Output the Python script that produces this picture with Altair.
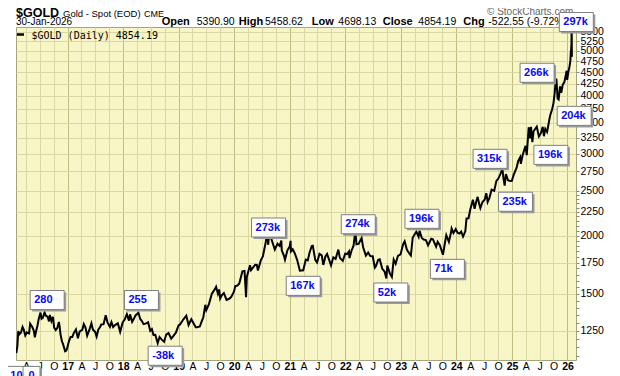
import altair as alt
import pandas as pd

# ---------------- data ----------------
dates = [
    "2016-01-29", "2016-02-05", "2016-02-11", "2016-02-19", "2016-02-29", "2016-03-10", "2016-03-18", "2016-03-28",
    "2016-04-07", "2016-04-15", "2016-04-22", "2016-04-29", "2016-05-13", "2016-05-23", "2016-05-30", "2016-06-07",
    "2016-06-16", "2016-06-24", "2016-07-06", "2016-07-13", "2016-07-21", "2016-08-02", "2016-08-10", "2016-08-22",
    "2016-08-31", "2016-09-06", "2016-09-16", "2016-09-26", "2016-10-04", "2016-10-14", "2016-10-24", "2016-11-04",
    "2016-11-09", "2016-11-15", "2016-11-24", "2016-12-01", "2016-12-15", "2016-12-23", "2016-12-30",
    "2017-01-09", "2017-01-20", "2017-01-31", "2017-02-10", "2017-02-24", "2017-03-09", "2017-03-21", "2017-04-07",
    "2017-04-17", "2017-04-28", "2017-05-09", "2017-05-24", "2017-06-06", "2017-06-16", "2017-06-30", "2017-07-10",
    "2017-07-21", "2017-08-01", "2017-08-10", "2017-08-25", "2017-09-08", "2017-09-20", "2017-10-06", "2017-10-16",
    "2017-10-27", "2017-11-08", "2017-11-27", "2017-12-12", "2017-12-29",
    "2018-01-10", "2018-01-25", "2018-02-08", "2018-02-15", "2018-03-01", "2018-03-13", "2018-03-23", "2018-04-11",
    "2018-04-24", "2018-05-03", "2018-05-15", "2018-06-01", "2018-06-14", "2018-06-28", "2018-07-09", "2018-07-19",
    "2018-07-31", "2018-08-16", "2018-08-28", "2018-09-10", "2018-09-27", "2018-10-11", "2018-10-26", "2018-11-13",
    "2018-11-30", "2018-12-14", "2018-12-31",
    "2019-01-10", "2019-01-31", "2019-02-20", "2019-03-07", "2019-03-25", "2019-04-23", "2019-05-02", "2019-05-20",
    "2019-05-31", "2019-06-12", "2019-06-25", "2019-07-02", "2019-07-19", "2019-08-07", "2019-08-13", "2019-08-23",
    "2019-09-04", "2019-09-16", "2019-09-24", "2019-10-01", "2019-10-11", "2019-10-25", "2019-11-12", "2019-11-29",
    "2019-12-12", "2019-12-31",
    "2020-01-08", "2020-01-20", "2020-02-03", "2020-02-24", "2020-03-09", "2020-03-19", "2020-03-24", "2020-04-14",
    "2020-04-21", "2020-05-18", "2020-05-29", "2020-06-05", "2020-06-24", "2020-07-08", "2020-07-27", "2020-08-06",
    "2020-08-11", "2020-08-18", "2020-09-01", "2020-09-24", "2020-10-12", "2020-10-26", "2020-11-06", "2020-11-09",
    "2020-11-24", "2020-11-30", "2020-12-16", "2020-12-31",
    "2021-01-06", "2021-01-08", "2021-01-20", "2021-02-02", "2021-02-18", "2021-03-08", "2021-03-30", "2021-04-16",
    "2021-04-29", "2021-05-10", "2021-05-25", "2021-06-01", "2021-06-17", "2021-06-29", "2021-07-15", "2021-07-30",
    "2021-08-09", "2021-08-23", "2021-09-03", "2021-09-29", "2021-10-14", "2021-10-29", "2021-11-16", "2021-11-26",
    "2021-12-15", "2021-12-31",
    "2022-01-13", "2022-01-25", "2022-01-28", "2022-02-11", "2022-02-24", "2022-03-08", "2022-03-15", "2022-03-29",
    "2022-04-18", "2022-04-28", "2022-05-16", "2022-05-31", "2022-06-14", "2022-06-30", "2022-07-14", "2022-07-21",
    "2022-08-05", "2022-08-15", "2022-09-01", "2022-09-16", "2022-09-28", "2022-10-04", "2022-10-21", "2022-11-03",
    "2022-11-15", "2022-11-28", "2022-12-13", "2022-12-30",
    "2023-01-16", "2023-01-26", "2023-02-10", "2023-02-28", "2023-03-08", "2023-03-20", "2023-04-04", "2023-04-13",
    "2023-04-28", "2023-05-04", "2023-05-19", "2023-05-31", "2023-06-15", "2023-06-29", "2023-07-20", "2023-07-31",
    "2023-08-21", "2023-08-31", "2023-09-14", "2023-10-05", "2023-10-17", "2023-10-27", "2023-11-13", "2023-11-28",
    "2023-12-01", "2023-12-13", "2023-12-28",
    "2024-01-10", "2024-01-22", "2024-02-02", "2024-02-14", "2024-02-29", "2024-03-08", "2024-03-21", "2024-04-02",
    "2024-04-12", "2024-04-19", "2024-04-30", "2024-05-10", "2024-05-20", "2024-05-30", "2024-06-07", "2024-06-20",
    "2024-07-05", "2024-07-16", "2024-07-25", "2024-08-05", "2024-08-20", "2024-08-30", "2024-09-06", "2024-09-20",
    "2024-10-03", "2024-10-18", "2024-10-30", "2024-11-06", "2024-11-14", "2024-11-22", "2024-12-06", "2024-12-20",
    "2024-12-31",
    "2025-01-10", "2025-01-22", "2025-01-31", "2025-02-11", "2025-02-24", "2025-02-28", "2025-03-13", "2025-03-31",
    "2025-04-08", "2025-04-21", "2025-04-25", "2025-05-01", "2025-05-06", "2025-05-15", "2025-05-23", "2025-06-13",
    "2025-06-27", "2025-07-10", "2025-07-22", "2025-07-30", "2025-08-08", "2025-08-20", "2025-09-02", "2025-09-09",
    "2025-09-22", "2025-10-01", "2025-10-08", "2025-10-16", "2025-10-20", "2025-10-28", "2025-11-04", "2025-11-13",
    "2025-11-21", "2025-12-01", "2025-12-11", "2025-12-24", "2025-12-26", "2025-12-30",
    "2026-01-06", "2026-01-14", "2026-01-20", "2026-01-23", "2026-01-26", "2026-01-27", "2026-01-28", "2026-01-29",
    "2026-01-30",
]
prices = [
    1118, 1157, 1247, 1228, 1238, 1272, 1255, 1220,
    1238, 1234, 1232, 1293, 1272, 1250, 1208, 1245,
    1280, 1322, 1366, 1325, 1331, 1367, 1346, 1338,
    1308, 1350, 1310, 1338, 1268, 1253, 1264, 1304,
    1275, 1225, 1185, 1170, 1128, 1132, 1150,
    1185, 1210, 1210, 1234, 1257, 1203, 1245, 1254,
    1290, 1268, 1218, 1255, 1296, 1255, 1242, 1213,
    1255, 1270, 1288, 1290, 1348, 1300, 1273, 1303,
    1271, 1284, 1295, 1242, 1303,
    1318, 1355, 1313, 1354, 1305, 1326, 1347, 1365,
    1322, 1312, 1290, 1295, 1302, 1248, 1258, 1223,
    1224, 1174, 1210, 1196, 1182, 1225, 1235, 1201,
    1220, 1238, 1282,
    1288, 1320, 1345, 1285, 1322, 1270, 1270, 1275,
    1305, 1335, 1420, 1384, 1425, 1500, 1510, 1527,
    1553, 1500, 1532, 1465, 1488, 1505, 1455, 1463,
    1475, 1517,
    1558, 1560, 1576, 1676, 1680, 1475, 1630, 1728,
    1686, 1732, 1730, 1683, 1770, 1808, 1940, 2065,
    1912, 2003, 1970, 1868, 1922, 1902, 1952, 1860,
    1807, 1776, 1860, 1895,
    1950, 1850, 1870, 1834, 1775, 1682, 1685, 1777,
    1770, 1836, 1900, 1903, 1775, 1752, 1828, 1815,
    1730, 1805, 1827, 1726, 1797, 1783, 1867, 1792,
    1765, 1829,
    1826, 1850, 1790, 1859, 1903, 2051, 1917, 1920,
    1977, 1888, 1812, 1840, 1808, 1807, 1707, 1718,
    1775, 1780, 1697, 1675, 1618, 1725, 1657, 1630,
    1776, 1740, 1810, 1823,
    1917, 1946, 1865, 1827, 1813, 1980, 2020, 2040,
    1990, 2050, 1978, 1962, 1957, 1907, 1970, 1965,
    1894, 1940, 1910, 1820, 1922, 2006, 1940, 2041,
    2072, 2027, 2066,
    2028, 2022, 2040, 1991, 2044, 2179, 2181, 2280,
    2344, 2390, 2286, 2360, 2425, 2343, 2294, 2361,
    2391, 2469, 2365, 2410, 2513, 2503, 2497, 2622,
    2655, 2721, 2788, 2659, 2565, 2716, 2633, 2622,
    2625,
    2690, 2755, 2798, 2898, 2952, 2857, 2988, 3123,
    2983, 3425, 3319, 3240, 3430, 3181, 3357, 3433,
    3272, 3325, 3432, 3275, 3398, 3346, 3532, 3630,
    3745, 3860, 4040, 4325, 4356, 3950, 3930, 4195,
    4063, 4230, 4280, 4480, 4532, 4330,
    4490, 4620, 4760, 4980, 5080, 5180, 5470, 5377,
    4854,
]

# position (date, price) that each COT box is attached to, and its text
ann_dates = ["2016-08-19", "2018-05-01", "2018-10-04", "2020-08-14", "2021-03-30", "2022-03-27",
             "2022-10-27", "2023-05-20", "2023-11-03", "2024-08-10", "2025-01-24", "2025-09-14",
             "2025-06-15", "2026-02-14", "2026-02-28", "2016-01-30", "2016-05-08"]
ann_prices = [1454, 1454, 1103, 2083, 1560, 2117, 1509, 2175, 1697, 2928, 2367, 2986, 4486, 3623, 5770,
              998, 998]
ann_labels = ["280", "255", "-38k", "273k", "167k", "274k", "52k", "196k", "71k", "315k", "235k",
              "196k", "266k", "204k", "297k", "10", "0"]

y_ticks = [1250, 1500, 1750, 2000, 2250, 2500, 2750, 3000, 3250, 3500, 3750, 4000,
           4250, 4500, 4750, 5000, 5250, 5500]

header_quote = [("Open", "5390.90"), ("High", "5458.62"), ("Low", "4698.13"),
                ("Close", "4854.19"), ("Chg", "-522.55 (-9.72%)")]

# ---------------- chart ----------------
df = pd.DataFrame({"date": dates, "price": prices})
ann = pd.DataFrame({"date": ann_dates, "price": ann_prices, "label": ann_labels})

W, H = 560, 333
FONT = "Liberation Sans"

qtrs = pd.date_range("2016-04-01", "2026-01-01", freq="QS-JAN")
x_vals = [alt.DateTime(year=int(d.year), month=int(d.month), date=1, utc=True) for d in qtrs]
is_year = "utcmonth(datum.value) == 0"

# minor tick marks (no label, no grid) every 50 in the lower part of the scale
minor = [v for v in range(1100, 2500, 50) if v % 250 != 0]
is_major = "datum.value % 250 == 0"

x_scale = alt.Scale(type="utc",
                    domain=[alt.DateTime(year=2016, month=1, date=27, utc=True),
                            alt.DateTime(year=2026, month=2, date=26, utc=True)])
y_scale = alt.Scale(type="log", domain=[1080, 5629], nice=False)

x_axis = alt.Axis(
    values=x_vals, title=None, ticks=False, domain=False, labelPadding=1,
    labelExpr=f"{is_year} ? utcFormat(datum.value, '%y') : substring(utcFormat(datum.value, '%b'), 0, 1)",
    labelFontWeight={"condition": {"test": is_year, "value": "bold"}, "value": "normal"},
    gridColor={"condition": {"test": is_year, "value": "#bdbd82"}, "value": "#d9d8a4"},
    labelFont=FONT, labelFontSize=10.5, labelColor="#000000", labelOverlap=False, labelFlush=False,
    labelBound=False, labelSeparation=0,
)
y_axis = alt.Axis(
    values=sorted(y_ticks + minor), orient="right", title=None, tickSize=3, tickColor="#888888",
    labelExpr=f"{is_major} ? format(datum.value, 'd') : ''",
    gridOpacity={"condition": {"test": is_major, "value": 1}, "value": 0},
    labelPadding=1, labelFontSize=10.5, labelFont=FONT, labelColor="#000000",
    gridColor="#d9d8a4", domain=False, labelOverlap=False, labelFlush=False,
)
X = alt.X("date:T", scale=x_scale, axis=x_axis)
Y = alt.Y("price:Q", scale=y_scale, axis=y_axis)

line = alt.Chart(df).mark_line(color="#000000", strokeWidth=2, clip=True).encode(x=X, y=Y)

# box outline per label: standard box, narrower for the short cut-off ones
BOX_H = 0.56
box_w = {"10": 0.5, "0": 0.34}
shape_rng = []
for lab in ann_labels:
    w = box_w.get(lab, 1.0)
    shape_rng.append(f"M{-w},{-BOX_H}L{w},{-BOX_H}L{w},{BOX_H}L{-w},{BOX_H}Z")
shape_enc = alt.Shape("label:N", scale=alt.Scale(domain=ann_labels, range=shape_rng), legend=None)

base_ann = alt.Chart(ann).encode(x=X, y=Y)
shadow = base_ann.mark_point(size=1156, filled=True, fill="#9a9a9a", strokeWidth=0,
                             opacity=1, xOffset=2, yOffset=2).encode(shape=shape_enc)
box = base_ann.mark_point(size=1156, filled=True, fill="#ffffff", stroke="#7f7f7f",
                          strokeWidth=1, opacity=1).encode(shape=shape_enc)
ann_text = base_ann.transform_filter("length(datum.label) >= 3").mark_text(
    align="left", baseline="middle", dx=-13, font=FONT, fontSize=11, fontWeight="bold",
    color="#0a0aee").encode(text="label:N")
ann_text_short = base_ann.transform_filter("length(datum.label) < 3").mark_text(
    align="center", baseline="middle", font=FONT, fontSize=11, fontWeight="bold",
    color="#0a0aee").encode(text="label:N")


def txt(s, x, y, size=11, weight="normal", color="#000000", font=FONT, align="left"):
    return alt.Chart(alt.Data(values=[{}])).mark_text(
        text=s, align=align, baseline="alphabetic", fontSize=size, fontWeight=weight,
        color=color, font=font).encode(x=alt.value(x), y=alt.value(y))


header = [
    txt("$GOLD", 0, -10, size=12.5, weight="bold"),
    txt("Gold - Spot (EOD)", 47, -10, size=9.5),
    txt("CME", 128, -10, size=9),
    txt("30-Jan-2026", 0, -2, size=10),
    txt("\u00a9 StockCharts.com", 471, -12, size=10, color="#666666"),
    txt("$GOLD (Daily) 4854.19", 15.5, 11.5, size=10, font="DejaVu Sans Mono"),
]
label_x = [145.7, 222.7, 295.7, 366.7, 447.3]
value_x = [180.7, 249.0, 322.3, 402.3, 472.3]
for (lab, val), lx, vx in zip(header_quote, label_x, value_x):
    header.append(txt(lab, lx, -2, size=11, weight="bold"))
    header.append(txt(val, vx, -2, size=10.5))

legend_dash = alt.Chart(alt.Data(values=[{}])).mark_rule(color="#000000", strokeWidth=2.5).encode(
    x=alt.value(1), x2=alt.value(8), y=alt.value(7.5))

chart = alt.layer(line, legend_dash, *header, shadow, box, ann_text, ann_text_short).properties(
    width=W, height=H,
    autosize=alt.AutoSizeParams(type="none"),
    padding={"left": 8, "top": 19, "right": 36, "bottom": 16},
    background="#ffffff",
).configure_view(fill="#f8f6c6", stroke="#a4a47a", strokeWidth=1
).configure_axisX(labelOverlap=False)

chart.save("out.html", embed_options={"renderer": "svg", "actions": False})
